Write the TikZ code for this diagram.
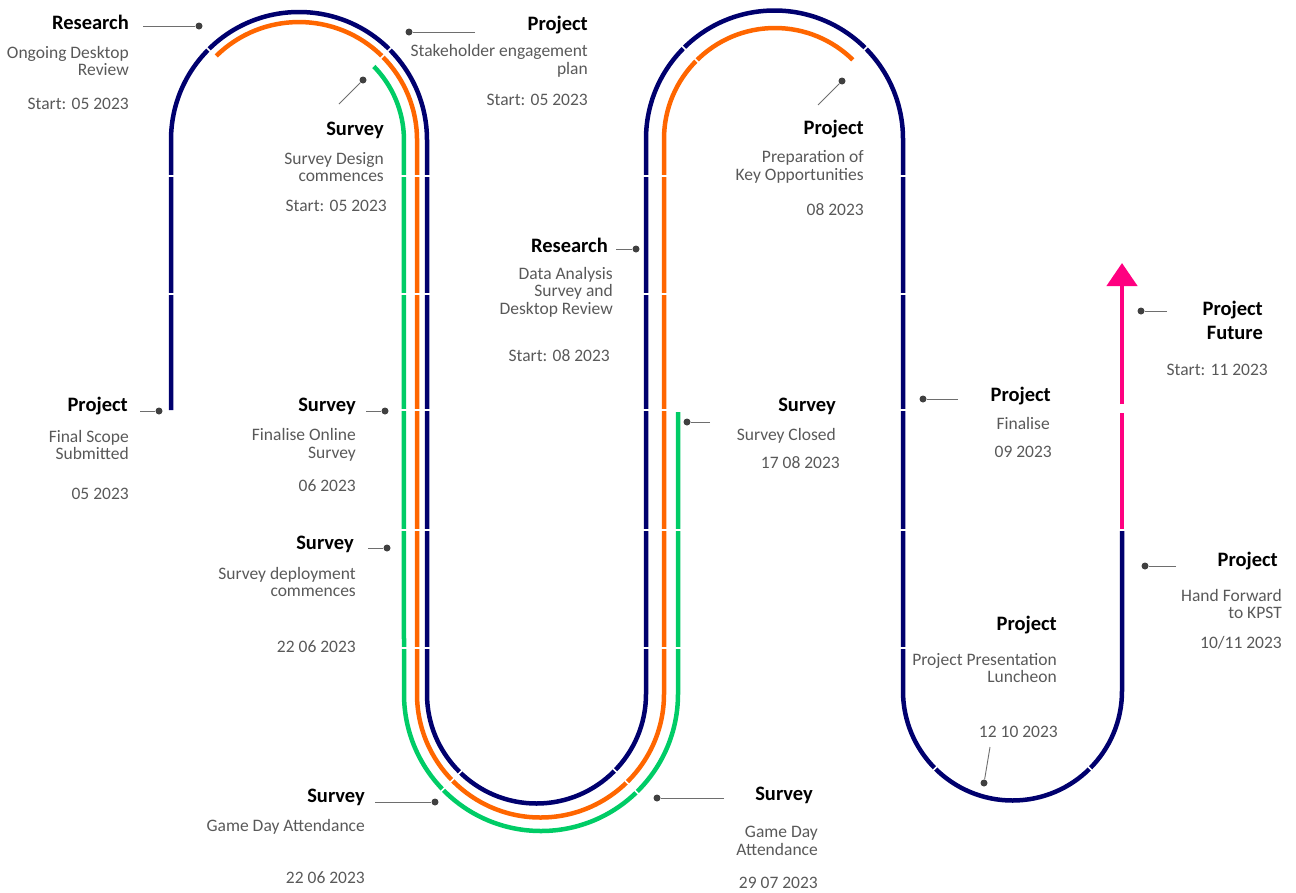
\documentclass[tikz,border=0pt]{standalone}
\usepackage{fontspec}
\setmainfont{Carlito}
\usepackage{xcolor}
\usepackage{tikz}
\usetikzlibrary{arrows.meta}

\definecolor{navyline}{RGB}{0,0,110}
\definecolor{orangeline}{RGB}{255,102,0}
\definecolor{greenline}{RGB}{0,204,102}
\definecolor{pinkline}{RGB}{255,0,128}
\definecolor{bodygray}{RGB}{89,89,89}
\definecolor{dotgray}{RGB}{64,64,64}
\definecolor{leadgray}{RGB}{110,110,110}

\tikzset{
	head/.style={font=\fontsize{20.5}{24}\selectfont\bfseries, text=black, anchor=east, align=right, inner sep=0pt},
	body/.style={font=\fontsize{17.5}{17.5}\selectfont, text=bodygray, anchor=east, align=right, inner sep=0pt},
	pindot/.style={circle, fill=dotgray, inner sep=0pt, minimum size=7pt},
	leader/.style={draw=leadgray, line width=0.9pt},
	track/.style={line width=4.5pt},
	gap/.style={draw=white, line width=1.5pt}
}

\begin{document}
\begin{tikzpicture}[x=1pt, y=-1pt]
		\useasboundingbox (0,0) rectangle (1296,892);

		\draw[track, navyline] (171,410) -- (171,140) arc[start angle=180, end angle=360, radius=128]
			-- (427,694) arc[start angle=180, end angle=0, radius=109.5]
			-- (646,139) arc[start angle=180, end angle=360, radius=128.5]
			-- (903,691) arc[start angle=180, end angle=0, radius=109.5]
			-- (1122,531);
		\draw[track, orangeline] (215.6,56.6) arc[start angle=225, end angle=360, radius=118]
			-- (417,694) arc[start angle=180, end angle=0, radius=123.5]
			-- (664,139) arc[start angle=180, end angle=315, radius=111];
		\draw[track, greenline] (373.2,65.8) arc[start angle=315, end angle=360, radius=105]
			-- (404,694) arc[start angle=180, end angle=0, radius=137]
			-- (678,412);
		\draw[track, pinkline] (1122,529) -- (1122,413);
		\draw[track, pinkline, -{Triangle[width=30pt, length=23pt]}] (1122,404) -- (1122,263);

		\draw[gap] (160,176) -- (182,176) (394,176) -- (437,176) (636,176) -- (688,176) (893,176) -- (913,176);
		\draw[gap] (160,294) -- (182,294) (394,294) -- (437,294) (636,294) -- (688,294) (893,294) -- (913,294);
		\draw[gap] (394,410) -- (437,410) (636,410) -- (688,410) (893,410) -- (913,410);
		\draw[gap] (394,530) -- (437,530) (636,530) -- (688,530) (893,530) -- (913,530) (1112,530) -- (1132,530);
		\draw[gap] (394,648) -- (437,648) (636,648) -- (688,648) (893,648) -- (913,648);
		\draw[gap] (299,140) ++(225:98) -- ++(225:38) (299,140) ++(315:98) -- ++(315:38);
		\draw[gap] (538.5,694) ++(135:100) -- ++(135:46) (538.5,694) ++(45:100) -- ++(45:46);
		\draw[gap] (775,139) ++(225:104) -- ++(225:32) (775,139) ++(315:104) -- ++(315:32);
		\draw[gap] (1012.5,691) ++(135:100) -- ++(135:18) (1012.5,691) ++(45:100) -- ++(45:18);

		\node[head] (l1h) at ( 129,  22) {Research};
		\node[body] (l1b) at ( 129,  61) {Ongoing Desktop\\Review};
		\node[body] (l1t) at ( 129, 104) {Start: 05 2023};
		\node[pindot] (l1p) at ( 199,  26) {};
		\coordinate (l1e) at ( 143,  26);

		\node[head] (l2h) at ( 588,  25) {Project};
		\node[body] (l2b) at ( 588,  61) {Stakeholder engagement\\plan};
		\node[body] (l2t) at ( 588, 100) {Start: 05 2023};
		\node[pindot] (l2p) at ( 409,  32) {};
		\coordinate (l2e) at ( 475,  32);

		\node[head] (l3h) at ( 384, 130) {Survey};
		\node[body] (l3b) at ( 384, 167) {Survey Design\\commences};
		\node[body] (l3t) at ( 387, 206) {Start: 05 2023};
		\node[pindot] (l3p) at ( 363,  80) {};
		\coordinate (l3e) at ( 339, 104);

		\node[head] (l4h) at ( 128, 406) {Project};
		\node[body] (l4b) at ( 129, 445) {Final Scope\\Submitted};
		\node[body] (l4t) at ( 129, 494) {05 2023};
		\node[pindot] (l4p) at ( 159, 411) {};
		\coordinate (l4e) at ( 140, 411);

		\node[head] (l5h) at ( 356, 406) {Survey};
		\node[body] (l5b) at ( 356, 445) {Finalise Online\\Survey};
		\node[body] (l5t) at ( 356, 486) {06 2023};
		\node[pindot] (l5p) at ( 385, 411) {};
		\coordinate (l5e) at ( 366, 411);

		\node[head] (l6h) at ( 354, 544) {Survey};
		\node[body] (l6b) at ( 356, 582) {Survey deployment\\commences};
		\node[body] (l6t) at ( 356, 647) {22 06 2023};
		\node[pindot] (l6p) at ( 387, 548) {};
		\coordinate (l6e) at ( 368, 548);

		\node[head] (l7h) at ( 365, 797) {Survey};
		\node[body] (l7b) at ( 365, 827) {Game Day Attendance};
		\node[body] (l7t) at ( 365, 878) {22 06 2023};
		\node[pindot] (l7p) at ( 435, 802) {};
		\coordinate (l7e) at ( 375, 802);

		\node[head] (l8h) at ( 608, 245) {Research};
		\node[body] (l8b) at ( 613, 292) {Data Analysis\\Survey and\\Desktop Review};
		\node[body] (l8t) at ( 610, 356) {Start: 08 2023};
		\node[pindot] (l8p) at ( 636, 249) {};
		\coordinate (l8e) at ( 616, 249);

		\node[head] (l9h) at ( 813, 795) {Survey};
		\node[body] (l9b) at ( 818, 841) {Game Day\\Attendance};
		\node[body] (l9t) at ( 818, 883) {29 07 2023};
		\node[pindot] (l9p) at ( 657, 798) {};
		\coordinate (l9e) at ( 724, 798);

		\node[head] (l10h) at ( 864, 129) {Project};
		\node[body] (l10b) at ( 864, 167) {Preparation of\\Key Opportunities};
		\node[body] (l10t) at ( 864, 210) {08 2023};
		\node[pindot] (l10p) at ( 842,  81) {};
		\coordinate (l10e) at ( 818, 105);

		\node[head] (l11h) at ( 836, 406) {Survey};
		\node[body] (l11b) at ( 836, 436) {Survey Closed};
		\node[body] (l11t) at ( 840, 463) {17 08 2023};
		\node[pindot] (l11p) at ( 687, 422) {};
		\coordinate (l11e) at ( 710, 422);

		\node[head] (l12h) at (1051, 396) {Project};
		\node[body] (l12b) at (1050, 423) {Finalise};
		\node[body] (l12t) at (1052, 452) {09 2023};
		\node[pindot] (l12p) at ( 923, 399) {};
		\coordinate (l12e) at ( 958, 399);

		\node[head] (l13h) at (1263, 320) {Project\\Future};
		\node[body] (l13t) at (1268, 370) {Start: 11 2023};
		\node[pindot] (l13p) at (1141, 311) {};
		\coordinate (l13e) at (1167, 311);

		\node[head] (l14h) at (1278, 561) {Project};
		\node[body] (l14b) at (1282, 604) {Hand Forward\\to KPST};
		\node[body] (l14t) at (1282, 643) {10/11 2023};
		\node[pindot] (l14p) at (1145, 566) {};
		\coordinate (l14e) at (1176, 566);

		\node[head] (l15h) at (1057, 625) {Project};
		\node[body] (l15b) at (1057, 668) {Project Presentation\\Luncheon};
		\node[body] (l15t) at (1058, 732) {12 10 2023};
		\node[pindot] (l15p) at ( 984, 783) {};
		\coordinate (l15e) at ( 990, 747);

		\draw[leader] (l1e) -- (l1p);
		\draw[leader] (l2e) -- (l2p);
		\draw[leader] (l3e) -- (l3p);
		\draw[leader] (l4e) -- (l4p);
		\draw[leader] (l5e) -- (l5p);
		\draw[leader] (l6e) -- (l6p);
		\draw[leader] (l7e) -- (l7p);
		\draw[leader] (l8e) -- (l8p);
		\draw[leader] (l9e) -- (l9p);
		\draw[leader] (l10e) -- (l10p);
		\draw[leader] (l11e) -- (l11p);
		\draw[leader] (l12e) -- (l12p);
		\draw[leader] (l13e) -- (l13p);
		\draw[leader] (l14e) -- (l14p);
		\draw[leader] (l15e) -- (l15p);
	\end{tikzpicture}
\end{document}
